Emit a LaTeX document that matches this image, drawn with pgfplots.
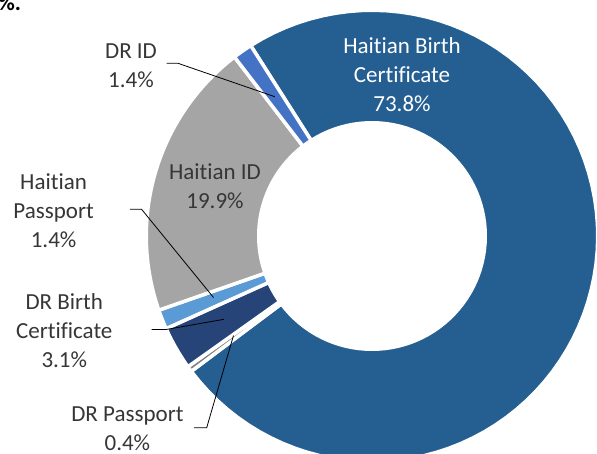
\documentclass[border=0pt]{standalone}
\usepackage{pgfplots}
\pgfplotsset{compat=1.18}
\usepackage{pgfplotstable}
\usepackage{fontspec}
\setmainfont{Carlito}[Ligatures={NoCommon}]
\definecolor{cHBC}{HTML}{255E91}
\definecolor{cDRP}{HTML}{7F7F7F}
\definecolor{cDRBC}{HTML}{264478}
\definecolor{cHP}{HTML}{5B9BD5}
\definecolor{cHID}{HTML}{A5A5A5}
\definecolor{cDRID}{HTML}{4472C4}
\definecolor{lbl}{HTML}{363636}

% shares in percent, clockwise from the first slice
\pgfplotstableread{
idx value
0 73.8
1 0.4
2 3.1
3 1.4
4 19.9
5 1.4
}\shares

\def\cx{372}\def\cy{236}\def\Ro{225.75}\def\Ri{113.25}
\xdef\acc{327.5}
\newcommand\setslice[1]{%
  \pgfplotstablegetelem{#1}{value}\of\shares
  \pgfmathsetmacro\tmpb{\acc+3.6*\pgfplotsretval}%
  \expandafter\xdef\csname sa#1\endcsname{\acc}%
  \expandafter\xdef\csname sb#1\endcsname{\tmpb}%
  \xdef\acc{\tmpb}}

\newcommand\slice[2]{%
  \expandafter\let\expandafter\A\csname sa#1\endcsname
  \expandafter\let\expandafter\B\csname sb#1\endcsname
  \addplot[fill=#2, draw=white, line width=3.5bp, line join=round,
    variable=\t, samples at={0,1,...,162}]
   ({\cx + ifthenelse(\t<80.5,\Ro,ifthenelse(\t<161.5,\Ri,\Ro))*sin(ifthenelse(\t<80.5,\A+(\B-\A)*\t/80,ifthenelse(\t<161.5,\B-(\B-\A)*(\t-81)/80,\A)))},
    {\cy - ifthenelse(\t<80.5,\Ro,ifthenelse(\t<161.5,\Ri,\Ro))*cos(ifthenelse(\t<80.5,\A+(\B-\A)*\t/80,ifthenelse(\t<161.5,\B-(\B-\A)*(\t-81)/80,\A)))});
}

\begin{document}
\setslice{0}\setslice{1}\setslice{2}\setslice{3}\setslice{4}\setslice{5}%
\begin{tikzpicture}
\begin{axis}[
  width=597bp, height=454bp, scale only axis,
  xmin=0, xmax=597, ymin=0, ymax=454, y dir=reverse,
  hide axis, clip=false,
]
\slice{0}{cHBC}
\slice{1}{cDRP}
\slice{2}{cDRBC}
\slice{3}{cHP}
\slice{4}{cHID}
\slice{5}{cDRID}

% leader lines
\addplot[black, line width=0.8bp, mark=none] coordinates {(166.5,63.3) (178,63.3) (274.8,96.7)};
\addplot[black, line width=0.8bp, mark=none] coordinates {(130,209.3) (141.6,209.3) (213.5,297.5)};
\addplot[black, line width=0.8bp, mark=none] coordinates {(151.5,329.5) (166,329.5) (224,319.3)};
\addplot[black, line width=0.8bp, mark=none] coordinates {(194,427.7) (206.7,427.7) (233.5,335.5)};

\tikzset{lab/.style={font=\fontsize{23bp}{29bp}\selectfont, text=lbl, align=center, inner sep=0pt}}
\node[lab, text=white] at (axis cs:402,75) {Haitian Birth\\Certificate\\73.8\%};
\node[lab] at (axis cs:215,186) {Haitian ID\\19.9\%};
\node[lab] at (axis cs:131,65.5) {DR ID\\1.4\%};
\node[lab] at (axis cs:53.6,211) {Haitian\\Passport\\1.4\%};
\node[lab] at (axis cs:64.3,331) {DR Birth\\Certificate\\3.1\%};
\node[lab] at (axis cs:127.4,429) {DR Passport\\0.4\%};
\node[anchor=base west, inner sep=0pt, font=\bfseries\fontsize{23bp}{28bp}\selectfont] at (axis cs:-2,11) {\%.};
\end{axis}
\pgfresetboundingbox
\path[use as bounding box] (current axis.south west) rectangle (current axis.north east);
\end{tikzpicture}
\end{document}
